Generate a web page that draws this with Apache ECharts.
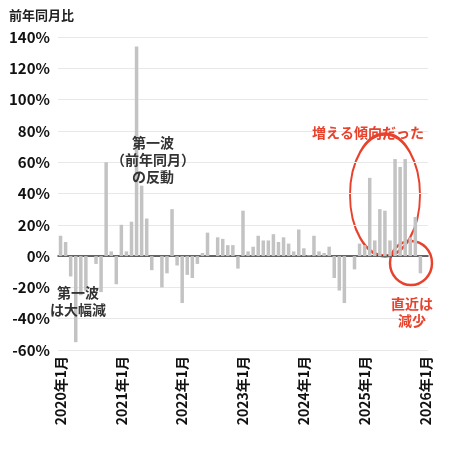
<!DOCTYPE html>
<html><head><meta charset="utf-8">
<script src="https://cdn.jsdelivr.net/npm/echarts@6/dist/echarts.min.js"></script>
<style>body{margin:0}#c{width:450px;height:449px}</style></head>
<body><div id="c"></div>
<script>
const months = [];
for (let y = 2020; y <= 2026; y++) for (let m = 1; m <= 12; m++) { if (y === 2026 && m > 1) break; months.push(y + '年' + m + '月'); }
const values = [
 13, 9, -13, -55, -25, -22, 0, -5, -23, 60, 3, -18,
 20, 3, 22, 134, 45, 24, -9, 0, -20, -11, 30, -6,
 -30, -12, -14, -5, 2, 15, 0, 12, 11, 7, 7, -8,
 29, 3, 6, 13, 10, 10, 14, 9, 12, 8, 3, 17,
 5, 0.5, 13, 3, 2, 6, -14, -22, -30, 0, -8.5, 8,
 7, 50, 10, 30, 29, 10, 62, 57, 62, 12, 25, -11, null
];
const yTicks = [-60, 140, 20];
const chart = echarts.init(document.getElementById('c'));
const red = '#e8412c';
const txt = {fontFamily:'Noto Sans CJK JP', fontWeight:'bold', fontSize:14, align:'center', verticalAlign:'middle', lineHeight:17};
function label(text, x, y, fill){ return {type:'text', x:x, y:y, z:10, style:Object.assign({text:text, fill:fill, x:0, y:0}, txt)}; }
chart.setOption({
  animation:false,
  grid:{left:58, right:22, top:37, bottom:99},
  title:{text:'前年同月比', left:4, top:4, textStyle:{fontFamily:'Noto Sans CJK JP', fontWeight:'bold', fontSize:13, color:'#222'}},
  xAxis:{type:'category', data:months, boundaryGap:true,
    axisLine:{lineStyle:{color:'#333', width:1.5}}, axisTick:{show:false},
    axisLabel:{interval:11, rotate:90, color:'#111', fontFamily:'Noto Sans CJK JP', fontWeight:'bold', fontSize:14, margin:6}},
  yAxis:{type:'value', min:yTicks[0], max:yTicks[1], interval:yTicks[2],
    axisLabel:{formatter:'{value}%', color:'#111', fontFamily:'Noto Sans CJK JP', fontWeight:'bold', fontSize:15},
    splitLine:{lineStyle:{color:'#e8e8e8'}}, axisLine:{show:false}, axisTick:{show:false}},
  series:[{type:'bar', data:values, barWidth:3.5, itemStyle:{color:'#c3c3c3'}}],
  graphic:[
    label('第一波\n（前年同月）\nの反動', 153, 160, '#333'),
    label('第一波\nは大幅減', 78, 301, '#333'),
    label('増える傾向だった', 368, 133, red),
    label('直近は\n減少', 412, 312, red),
    {type:'circle', shape:{cx:0, cy:0, r:1}, x:385, y:195, scaleX:35, scaleY:61,
      style:{fill:'none', stroke:red, lineWidth:2.5, strokeNoScale:true}},
    {type:'circle', shape:{cx:0, cy:0, r:1}, x:411, y:263, scaleX:21, scaleY:22,
      style:{fill:'none', stroke:red, lineWidth:2.5, strokeNoScale:true}}
  ]
});
</script></body></html>
